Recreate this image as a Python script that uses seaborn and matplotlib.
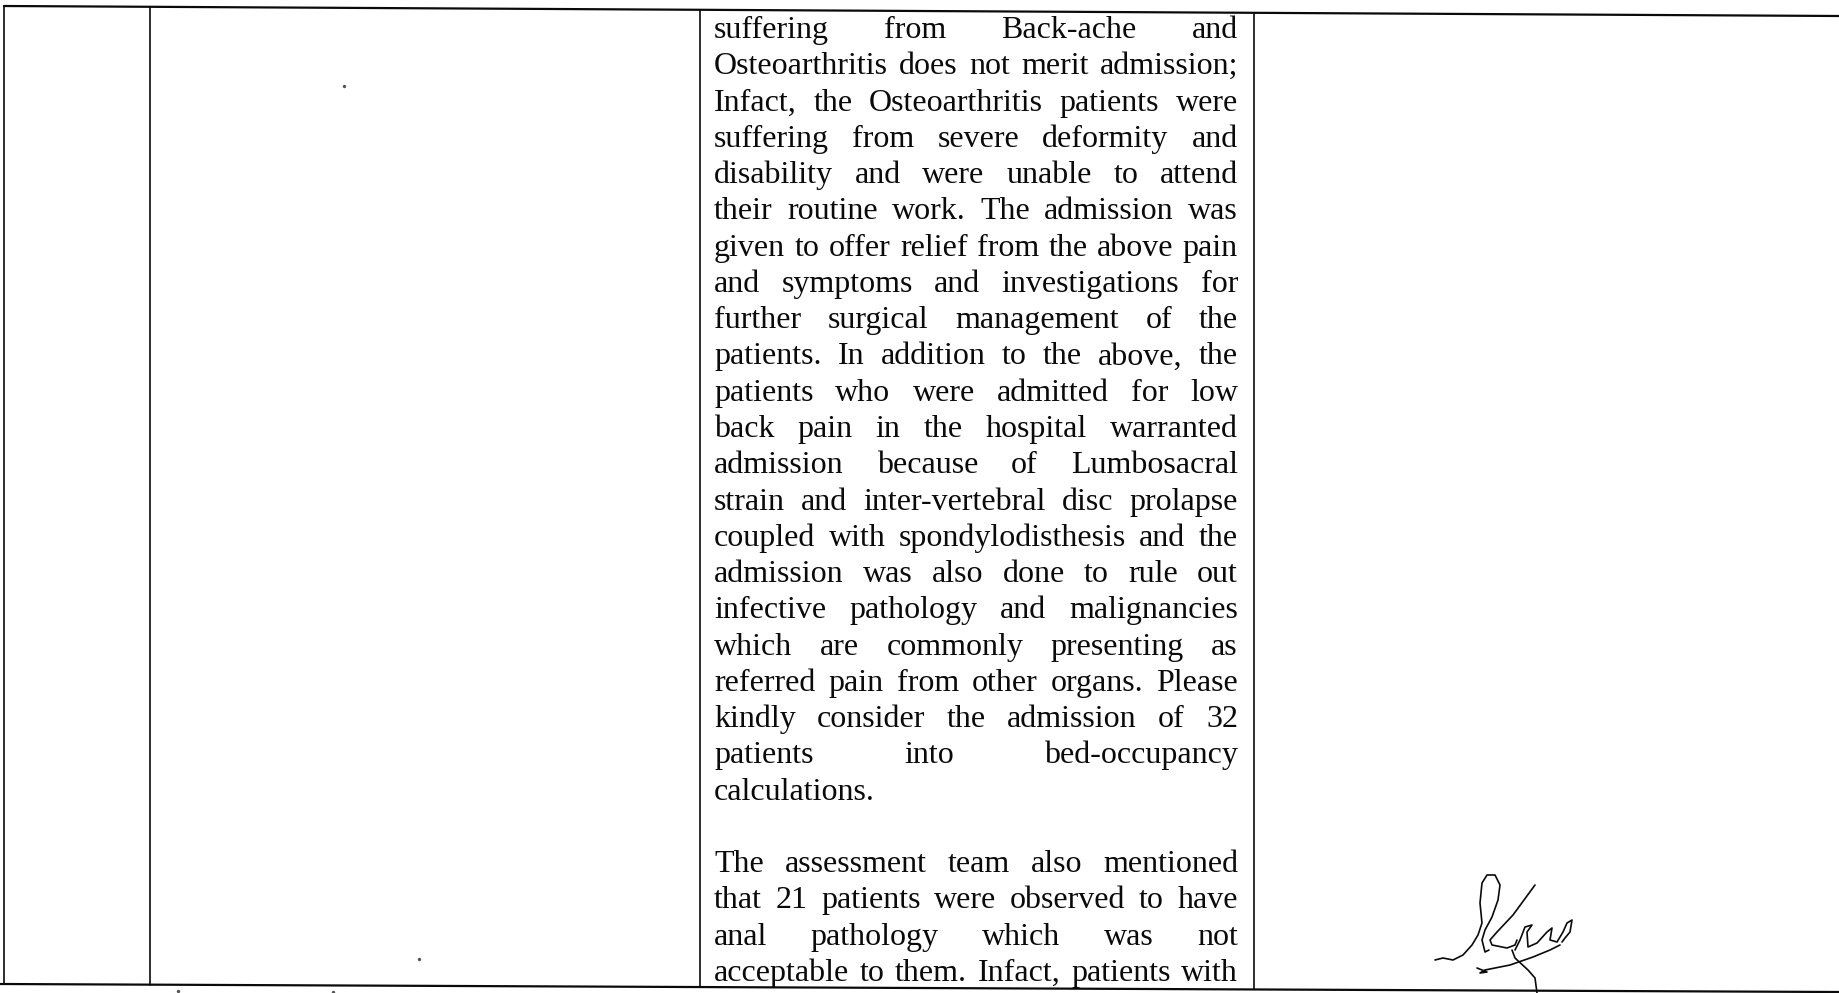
import seaborn as sns
import matplotlib.pyplot as plt

# Texto de la celda (una entrada por renglón del escaneo)
renglones = [
    "suffering from Back-ache and",
    "Osteoarthritis does not merit admission;",
    "Infact, the Osteoarthritis patients were",
    "suffering from severe deformity and",
    "disability and were unable to attend",
    "their routine work. The admission was",
    "given to offer relief from the above pain",
    "and symptoms and investigations for",
    "further surgical management of the",
    "patients. In addition to the above, the",
    "patients who were admitted for low",
    "back pain in the hospital warranted",
    "admission because of Lumbosacral",
    "strain and inter-vertebral disc prolapse",
    "coupled with spondylodisthesis and the",
    "admission was also done to rule out",
    "infective pathology and malignancies",
    "which are commonly presenting as",
    "referred pain from other organs. Please",
    "kindly consider the admission of 32",
    "patients into bed-occupancy",
    "calculations.",
    "",
    "The assessment team also mentioned",
    "that 21 patients were observed to have",
    "anal pathology which was not",
    "acceptable to them. Infact, patients with",
]
fin_parrafo = [21]  # renglones que no se justifican

# Líneas de la tabla (px del escaneo)
col_x = [4, 150, 700, 1254]
borde_sup_x = [4, 1839]
borde_sup_y = [6, 16]
borde_inf_x = [0, 1839]
borde_inf_y = [984, 992]

# Firma a mano (trazos)
firma_a_x = [1435, 1443, 1453, 1463, 1472, 1478, 1482, 1480, 1482, 1487, 1495, 1500, 1498, 1492, 1485, 1482, 1485, 1489]
firma_a_y = [960, 958, 960, 955, 945, 935, 923, 903, 883, 875, 875, 885, 900, 917, 930, 940, 952, 950]
firma_b_x = [1535, 1513, 1497, 1490, 1492, 1507, 1515, 1517]
firma_b_y = [885, 915, 932, 940, 945, 948, 945, 940]
firma_c_x = [1515, 1520, 1525, 1532, 1527, 1528, 1537, 1547, 1552, 1550, 1557, 1563, 1567, 1572, 1570, 1565, 1562]
firma_c_y = [950, 940, 927, 925, 932, 947, 943, 932, 928, 940, 942, 932, 923, 920, 932, 938, 942]
firma_d_x = [1477, 1487, 1480, 1485, 1510, 1533, 1550, 1560]
firma_d_y = [968, 972, 973, 970, 965, 957, 950, 945]
firma_e_x = [1512, 1515, 1528, 1535, 1537]
firma_e_y = [950, 958, 970, 978, 993]

# Manchas del escaneo
manchas_x = [344, 419, 178, 333]
manchas_y = [86, 959, 991, 992]

# Texto: márgenes y renglones
texto_izq = 714
texto_der = 1238
base_y0 = 38
interlinea = 36.27

sns.set_theme(style="white")
fig = plt.figure(figsize=(18.39, 9.93), dpi=100)
ax = fig.add_axes([0, 0, 1, 1])
ax.set_xlim(0, 1839)
ax.set_ylim(993, 0)
ax.axis("off")

negro = "#0a0a0a"
kw = dict(sort=False, estimator=None, color=negro, ax=ax, legend=False)

# Bordes de la tabla
sns.lineplot(x=borde_sup_x, y=borde_sup_y, linewidth=1.6, **kw)
sns.lineplot(x=borde_inf_x, y=borde_inf_y, linewidth=1.6, **kw)
for cx in col_x:
    frac = cx / 1839
    y_top = borde_sup_y[0] + (borde_sup_y[1] - borde_sup_y[0]) * frac
    y_bot = borde_inf_y[0] + (borde_inf_y[1] - borde_inf_y[0]) * frac
    sns.lineplot(x=[cx, cx], y=[y_top, y_bot], linewidth=1.2, **kw)

# Firma
for fx, fy in [(firma_a_x, firma_a_y), (firma_b_x, firma_b_y), (firma_c_x, firma_c_y),
               (firma_d_x, firma_d_y), (firma_e_x, firma_e_y)]:
    sns.lineplot(x=fx, y=fy, linewidth=1.2, **kw)

sns.scatterplot(x=manchas_x, y=manchas_y, s=6, color="#555555", linewidth=0, ax=ax, legend=False)

# Tamaño de letra ajustado al ancho de la columna
fuente = "Liberation Serif"
renderer = fig.canvas.get_renderer()
prueba = ax.text(0, 0, renglones[1], fontsize=20, family=fuente)
ancho = prueba.get_window_extent(renderer).width
prueba.remove()
tam = 20 * 512 / ancho

# Texto justificado palabra por palabra
for i, renglon in enumerate(renglones):
    if not renglon:
        continue
    y = base_y0 + interlinea * i
    palabras = renglon.split()
    objs = [ax.text(0, y, p, fontsize=tam, family=fuente, color=negro, va="baseline")
            for p in palabras]
    anchos = [o.get_window_extent(renderer).width for o in objs]
    if i in fin_parrafo or len(palabras) == 1:
        hueco = 0.25 * tam * 100 / 72
    else:
        hueco = (texto_der - texto_izq - sum(anchos)) / (len(palabras) - 1)
    x = texto_izq
    for o, w in zip(objs, anchos):
        o.set_x(x)
        x += w + hueco

fig.savefig("out.png", dpi=100, facecolor="white")
